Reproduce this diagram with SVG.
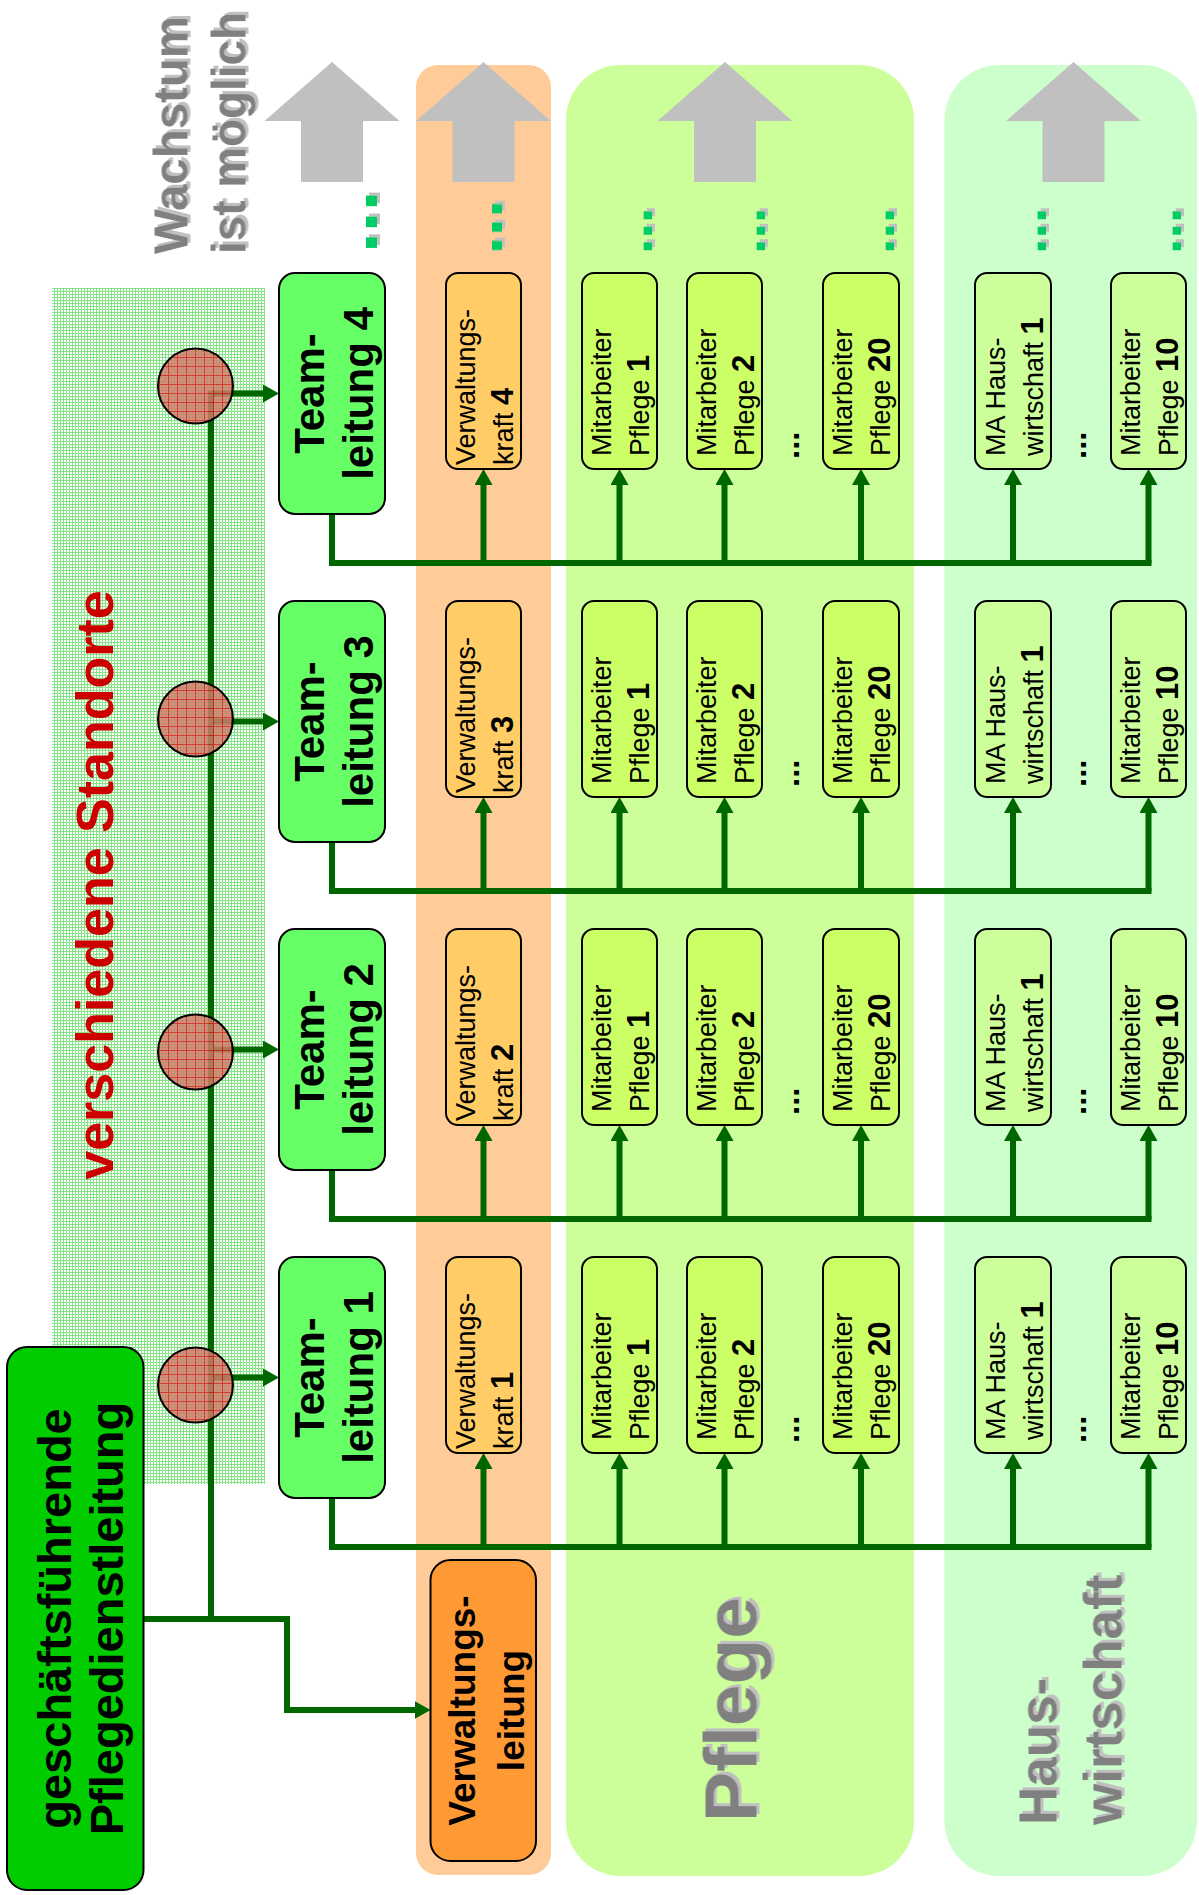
<svg xmlns="http://www.w3.org/2000/svg" width="1199" height="1895" viewBox="0 0 1199 1895">
<defs>
<style>
.f{font-family:"Liberation Sans",Arial,Helvetica,sans-serif}
.b{font-weight:bold}
.box{stroke:#000;stroke-width:2}
.team{fill:#66ff66}
.vk{fill:#ffcc66}
.pf{fill:#ccff66}
.hw{fill:#ccff99}
.lbl{font-size:27px;fill:#000}
.num{font-size:31px;font-weight:bold}
.tl{font-size:42px;font-weight:bold;fill:#000}
.gray{fill:#808080;font-weight:bold}
.gdots{fill:#00cc66;font-weight:bold}
.bdots{fill:#000;font-weight:bold;font-size:33px}
.conn{fill:none;stroke:#006600;stroke-width:6;stroke-linejoin:miter}
.garrow{fill:#c0c0c0}
</style>
<pattern id="grid" width="3" height="3" patternUnits="userSpaceOnUse">
<rect width="3" height="3" fill="#ffffff"/>
<path d="M0,0.5H3M0.5,0V3" stroke="#86e486" stroke-width="1"/>
</pattern>
<pattern id="red" width="9" height="9" patternUnits="userSpaceOnUse" x="159" y="348">
<rect width="9" height="9" fill="#cc7e6a"/>
<path d="M0,0.5H9M0.5,0V9" stroke="#dd2020" stroke-width="1"/>
</pattern>
<filter id="sh" x="-10%" y="-20%" width="130%" height="150%">
<feFlood flood-color="#c0c0c0" result="c"/>
<feComposite in="c" in2="SourceAlpha" operator="in" result="s"/>
<feOffset in="s" dx="3" dy="3" result="o"/>
<feMerge><feMergeNode in="o"/><feMergeNode in="SourceGraphic"/></feMerge>
</filter>
<marker id="ah" viewBox="0 0 16 18" refX="8" refY="9" markerWidth="16" markerHeight="18" markerUnits="userSpaceOnUse" orient="auto">
<path d="M0,0L16,9L0,18z" fill="#006600"/>
</marker>
</defs>

<!-- background panels -->
<g id="panel-verwaltung"><rect x="416" y="65" width="135" height="1810" rx="22" fill="#ffcc99"/></g>
<g id="panel-pflege"><rect x="566" y="65" width="348" height="1811" rx="55" fill="#ccff99"/>
<text class="f gray" font-size="75" filter="url(#sh)" transform="translate(756.5,1822) rotate(-90)">Pflege</text></g>
<g id="panel-hauswirtschaft"><rect x="944.5" y="65" width="252.5" height="1811" rx="55" fill="#ccffcc"/>
<text class="f gray" font-size="53" filter="url(#sh)" transform="translate(1056.5,1825) rotate(-90)"><tspan x="0" y="0">Haus-</tspan><tspan x="0" y="64.5">wirtschaft</tspan></text></g>

<g id="standorte"><rect x="52" y="288" width="213" height="1196" fill="url(#grid)"/>
<text class="f b" font-size="52" fill="#cc0000" text-anchor="middle" transform="translate(113,885) rotate(-90)">verschiedene Standorte</text></g>

<g id="wachstum">
<text class="f gray" font-size="48" filter="url(#sh)" transform="translate(187.5,254) rotate(-90)"><tspan x="0" y="0" textLength="238" lengthAdjust="spacingAndGlyphs">Wachstum</tspan><tspan x="0" y="57.5" textLength="242" lengthAdjust="spacingAndGlyphs">ist möglich</tspan></text>
<polygon class="garrow" points="332,62 399.5,121 363,121 363,182 301,182 301,121 264.5,121"/>
<polygon class="garrow" points="483.5,62 551,121 514.5,121 514.5,182 452.5,182 452.5,121 416,121"/>
<polygon class="garrow" points="725,62 792.5,121 756,121 756,182 694,182 694,121 657.5,121"/>
<polygon class="garrow" points="1073.5,62 1141,121 1104.5,121 1104.5,182 1042.5,182 1042.5,121 1006,121"/>
<text class="f gdots" font-size="75" filter="url(#sh)" transform="translate(377,253) rotate(-90)">...</text>
<text class="f gdots" font-size="66" filter="url(#sh)" transform="translate(502,254.5) rotate(-90)">...</text>
<text class="f gdots" font-size="56" filter="url(#sh)" transform="translate(652,254) rotate(-90)">...</text>
<text class="f gdots" font-size="56" filter="url(#sh)" transform="translate(765,254) rotate(-90)">...</text>
<text class="f gdots" font-size="56" filter="url(#sh)" transform="translate(894,254) rotate(-90)">...</text>
<text class="f gdots" font-size="56" filter="url(#sh)" transform="translate(1046,254) rotate(-90)">...</text>
<text class="f gdots" font-size="56" filter="url(#sh)" transform="translate(1181,254) rotate(-90)">...</text>
</g>

<!-- connectors -->
<g id="connectors" class="conn">
<path d="M211,1619V393.5H271" marker-end="url(#ah)"/>
<path d="M211,721.5H271" marker-end="url(#ah)"/>
<path d="M211,1049.5H271" marker-end="url(#ah)"/>
<path d="M211,1377.5H271" marker-end="url(#ah)"/>
<path d="M143.5,1619H287V1710H422.5" marker-end="url(#ah)"/>
<path d="M332,514V563H1151.5"/>
<path d="M332,842V891H1151.5"/>
<path d="M332,1170V1219H1151.5"/>
<path d="M332,1498V1547H1151.5"/>
<path d="M483.5,563V477" marker-end="url(#ah)"/><path d="M619.5,563V477" marker-end="url(#ah)"/><path d="M724.5,563V477" marker-end="url(#ah)"/><path d="M861,563V477" marker-end="url(#ah)"/><path d="M1013,563V477" marker-end="url(#ah)"/><path d="M1148.5,563V477" marker-end="url(#ah)"/>
<path d="M483.5,891V805" marker-end="url(#ah)"/><path d="M619.5,891V805" marker-end="url(#ah)"/><path d="M724.5,891V805" marker-end="url(#ah)"/><path d="M861,891V805" marker-end="url(#ah)"/><path d="M1013,891V805" marker-end="url(#ah)"/><path d="M1148.5,891V805" marker-end="url(#ah)"/>
<path d="M483.5,1219V1133" marker-end="url(#ah)"/><path d="M619.5,1219V1133" marker-end="url(#ah)"/><path d="M724.5,1219V1133" marker-end="url(#ah)"/><path d="M861,1219V1133" marker-end="url(#ah)"/><path d="M1013,1219V1133" marker-end="url(#ah)"/><path d="M1148.5,1219V1133" marker-end="url(#ah)"/>
<path d="M483.5,1547V1461" marker-end="url(#ah)"/><path d="M619.5,1547V1461" marker-end="url(#ah)"/><path d="M724.5,1547V1461" marker-end="url(#ah)"/><path d="M861,1547V1461" marker-end="url(#ah)"/><path d="M1013,1547V1461" marker-end="url(#ah)"/><path d="M1148.5,1547V1461" marker-end="url(#ah)"/>
</g>

<!-- location circles -->
<g id="standort-4"><circle cx="195.5" cy="386" r="37.5" fill="url(#red)" fill-opacity="0.85" stroke="#000" stroke-width="2"/></g>
<g id="standort-3"><circle cx="195.5" cy="719" r="37.5" fill="url(#red)" fill-opacity="0.85" stroke="#000" stroke-width="2"/></g>
<g id="standort-2"><circle cx="195.5" cy="1052" r="37.5" fill="url(#red)" fill-opacity="0.85" stroke="#000" stroke-width="2"/></g>
<g id="standort-1"><circle cx="195.5" cy="1385" r="37.5" fill="url(#red)" fill-opacity="0.85" stroke="#000" stroke-width="2"/></g>

<g id="gf-pdl"><rect class="box" x="7" y="1347" width="136.5" height="543" rx="20" fill="#00cc00"/>
<text class="f b" font-size="47" text-anchor="middle" transform="translate(70.5,1618.5) rotate(-90)"><tspan x="0" y="0">geschäftsführende</tspan><tspan x="0" y="52">Pflegedienstleitung</tspan></text></g>

<g id="verwaltungsleitung"><rect class="box" x="430.5" y="1560" width="105.5" height="301" rx="20" fill="#ff9933"/>
<text class="f b" font-size="37" text-anchor="middle" transform="translate(474.5,1710.5) rotate(-90)"><tspan x="0" y="0">Verwaltungs-</tspan><tspan x="0" y="49.5">leitung</tspan></text></g>

<!-- row 4 -->
<g id="teamleitung-4" transform="translate(279,273)"><rect class="box team" width="106" height="241" rx="16"/>
<text class="f tl" text-anchor="middle" transform="translate(44.5,120.5) rotate(-90)"><tspan x="0" y="0">Team-</tspan><tspan x="0" y="49.5">leitung 4</tspan></text></g>
<g id="verwaltungskraft-4" transform="translate(446,273)"><rect class="box vk" width="75" height="196" rx="12"/>
<text class="f lbl" transform="translate(28.5,192) rotate(-90)"><tspan x="0" y="0">Verwaltungs-</tspan><tspan x="0" y="38">kraft <tspan class="num">4</tspan></tspan></text></g>
<g id="pflege-1-t4" transform="translate(582,273)"><rect class="box pf" width="75" height="196" rx="12"/>
<text class="f lbl" transform="translate(29,183) rotate(-90)"><tspan x="0" y="0">Mitarbeiter</tspan><tspan x="0" y="38">Pflege <tspan class="num">1</tspan></tspan></text></g>
<g id="pflege-2-t4" transform="translate(687,273)"><rect class="box pf" width="75" height="196" rx="12"/>
<text class="f lbl" transform="translate(29,183) rotate(-90)"><tspan x="0" y="0">Mitarbeiter</tspan><tspan x="0" y="38">Pflege <tspan class="num">2</tspan></tspan></text></g>
<text class="f bdots" transform="translate(798.5,459) rotate(-90)">...</text>
<g id="pflege-20-t4" transform="translate(823,273)"><rect class="box pf" width="76" height="196" rx="12"/>
<text class="f lbl" transform="translate(29,183) rotate(-90)"><tspan x="0" y="0">Mitarbeiter</tspan><tspan x="0" y="38">Pflege <tspan class="num">20</tspan></tspan></text></g>
<g id="hw-1-t4" transform="translate(975,273)"><rect class="box hw" width="76" height="196" rx="12"/>
<text class="f lbl" transform="translate(30,183) rotate(-90)"><tspan x="0" y="0">MA Haus-</tspan><tspan x="0" y="38">wirtschaft <tspan class="num">1</tspan></tspan></text></g>
<text class="f bdots" transform="translate(1086,459) rotate(-90)">...</text>
<g id="hw-10-t4" transform="translate(1111,273)"><rect class="box hw" width="75" height="196" rx="12"/>
<text class="f lbl" transform="translate(29,183) rotate(-90)"><tspan x="0" y="0">Mitarbeiter</tspan><tspan x="0" y="38">Pflege <tspan class="num">10</tspan></tspan></text></g>

<!-- row 3 -->
<g id="teamleitung-3" transform="translate(279,601)"><rect class="box team" width="106" height="241" rx="16"/>
<text class="f tl" text-anchor="middle" transform="translate(44.5,120.5) rotate(-90)"><tspan x="0" y="0">Team-</tspan><tspan x="0" y="49.5">leitung 3</tspan></text></g>
<g id="verwaltungskraft-3" transform="translate(446,601)"><rect class="box vk" width="75" height="196" rx="12"/>
<text class="f lbl" transform="translate(28.5,192) rotate(-90)"><tspan x="0" y="0">Verwaltungs-</tspan><tspan x="0" y="38">kraft <tspan class="num">3</tspan></tspan></text></g>
<g id="pflege-1-t3" transform="translate(582,601)"><rect class="box pf" width="75" height="196" rx="12"/>
<text class="f lbl" transform="translate(29,183) rotate(-90)"><tspan x="0" y="0">Mitarbeiter</tspan><tspan x="0" y="38">Pflege <tspan class="num">1</tspan></tspan></text></g>
<g id="pflege-2-t3" transform="translate(687,601)"><rect class="box pf" width="75" height="196" rx="12"/>
<text class="f lbl" transform="translate(29,183) rotate(-90)"><tspan x="0" y="0">Mitarbeiter</tspan><tspan x="0" y="38">Pflege <tspan class="num">2</tspan></tspan></text></g>
<text class="f bdots" transform="translate(798.5,787) rotate(-90)">...</text>
<g id="pflege-20-t3" transform="translate(823,601)"><rect class="box pf" width="76" height="196" rx="12"/>
<text class="f lbl" transform="translate(29,183) rotate(-90)"><tspan x="0" y="0">Mitarbeiter</tspan><tspan x="0" y="38">Pflege <tspan class="num">20</tspan></tspan></text></g>
<g id="hw-1-t3" transform="translate(975,601)"><rect class="box hw" width="76" height="196" rx="12"/>
<text class="f lbl" transform="translate(30,183) rotate(-90)"><tspan x="0" y="0">MA Haus-</tspan><tspan x="0" y="38">wirtschaft <tspan class="num">1</tspan></tspan></text></g>
<text class="f bdots" transform="translate(1086,787) rotate(-90)">...</text>
<g id="hw-10-t3" transform="translate(1111,601)"><rect class="box hw" width="75" height="196" rx="12"/>
<text class="f lbl" transform="translate(29,183) rotate(-90)"><tspan x="0" y="0">Mitarbeiter</tspan><tspan x="0" y="38">Pflege <tspan class="num">10</tspan></tspan></text></g>

<!-- row 2 -->
<g id="teamleitung-2" transform="translate(279,929)"><rect class="box team" width="106" height="241" rx="16"/>
<text class="f tl" text-anchor="middle" transform="translate(44.5,120.5) rotate(-90)"><tspan x="0" y="0">Team-</tspan><tspan x="0" y="49.5">leitung 2</tspan></text></g>
<g id="verwaltungskraft-2" transform="translate(446,929)"><rect class="box vk" width="75" height="196" rx="12"/>
<text class="f lbl" transform="translate(28.5,192) rotate(-90)"><tspan x="0" y="0">Verwaltungs-</tspan><tspan x="0" y="38">kraft <tspan class="num">2</tspan></tspan></text></g>
<g id="pflege-1-t2" transform="translate(582,929)"><rect class="box pf" width="75" height="196" rx="12"/>
<text class="f lbl" transform="translate(29,183) rotate(-90)"><tspan x="0" y="0">Mitarbeiter</tspan><tspan x="0" y="38">Pflege <tspan class="num">1</tspan></tspan></text></g>
<g id="pflege-2-t2" transform="translate(687,929)"><rect class="box pf" width="75" height="196" rx="12"/>
<text class="f lbl" transform="translate(29,183) rotate(-90)"><tspan x="0" y="0">Mitarbeiter</tspan><tspan x="0" y="38">Pflege <tspan class="num">2</tspan></tspan></text></g>
<text class="f bdots" transform="translate(798.5,1115) rotate(-90)">...</text>
<g id="pflege-20-t2" transform="translate(823,929)"><rect class="box pf" width="76" height="196" rx="12"/>
<text class="f lbl" transform="translate(29,183) rotate(-90)"><tspan x="0" y="0">Mitarbeiter</tspan><tspan x="0" y="38">Pflege <tspan class="num">20</tspan></tspan></text></g>
<g id="hw-1-t2" transform="translate(975,929)"><rect class="box hw" width="76" height="196" rx="12"/>
<text class="f lbl" transform="translate(30,183) rotate(-90)"><tspan x="0" y="0">MA Haus-</tspan><tspan x="0" y="38">wirtschaft <tspan class="num">1</tspan></tspan></text></g>
<text class="f bdots" transform="translate(1086,1115) rotate(-90)">...</text>
<g id="hw-10-t2" transform="translate(1111,929)"><rect class="box hw" width="75" height="196" rx="12"/>
<text class="f lbl" transform="translate(29,183) rotate(-90)"><tspan x="0" y="0">Mitarbeiter</tspan><tspan x="0" y="38">Pflege <tspan class="num">10</tspan></tspan></text></g>

<!-- row 1 -->
<g id="teamleitung-1" transform="translate(279,1257)"><rect class="box team" width="106" height="241" rx="16"/>
<text class="f tl" text-anchor="middle" transform="translate(44.5,120.5) rotate(-90)"><tspan x="0" y="0">Team-</tspan><tspan x="0" y="49.5">leitung 1</tspan></text></g>
<g id="verwaltungskraft-1" transform="translate(446,1257)"><rect class="box vk" width="75" height="196" rx="12"/>
<text class="f lbl" transform="translate(28.5,192) rotate(-90)"><tspan x="0" y="0">Verwaltungs-</tspan><tspan x="0" y="38">kraft <tspan class="num">1</tspan></tspan></text></g>
<g id="pflege-1-t1" transform="translate(582,1257)"><rect class="box pf" width="75" height="196" rx="12"/>
<text class="f lbl" transform="translate(29,183) rotate(-90)"><tspan x="0" y="0">Mitarbeiter</tspan><tspan x="0" y="38">Pflege <tspan class="num">1</tspan></tspan></text></g>
<g id="pflege-2-t1" transform="translate(687,1257)"><rect class="box pf" width="75" height="196" rx="12"/>
<text class="f lbl" transform="translate(29,183) rotate(-90)"><tspan x="0" y="0">Mitarbeiter</tspan><tspan x="0" y="38">Pflege <tspan class="num">2</tspan></tspan></text></g>
<text class="f bdots" transform="translate(798.5,1443) rotate(-90)">...</text>
<g id="pflege-20-t1" transform="translate(823,1257)"><rect class="box pf" width="76" height="196" rx="12"/>
<text class="f lbl" transform="translate(29,183) rotate(-90)"><tspan x="0" y="0">Mitarbeiter</tspan><tspan x="0" y="38">Pflege <tspan class="num">20</tspan></tspan></text></g>
<g id="hw-1-t1" transform="translate(975,1257)"><rect class="box hw" width="76" height="196" rx="12"/>
<text class="f lbl" transform="translate(30,183) rotate(-90)"><tspan x="0" y="0">MA Haus-</tspan><tspan x="0" y="38">wirtschaft <tspan class="num">1</tspan></tspan></text></g>
<text class="f bdots" transform="translate(1086,1443) rotate(-90)">...</text>
<g id="hw-10-t1" transform="translate(1111,1257)"><rect class="box hw" width="75" height="196" rx="12"/>
<text class="f lbl" transform="translate(29,183) rotate(-90)"><tspan x="0" y="0">Mitarbeiter</tspan><tspan x="0" y="38">Pflege <tspan class="num">10</tspan></tspan></text></g>
</svg>
